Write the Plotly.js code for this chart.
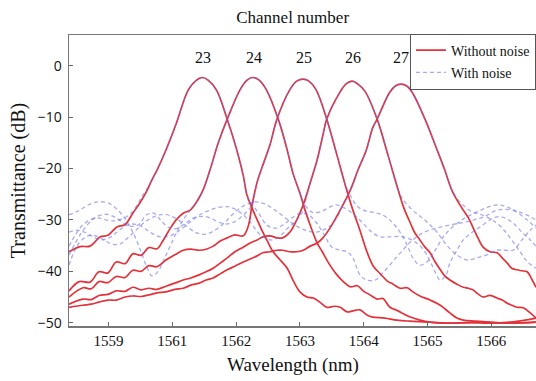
<!DOCTYPE html>
<html>
<head>
<meta charset="utf-8">
<script src="https://cdn.plot.ly/plotly-3.0.1.min.js"></script>
<style>html,body{margin:0;padding:0;background:#fff;}#chart{width:536px;height:381px;}</style>
</head>
<body>
<div id="chart"></div>
<script>
// ---- data (wavelength in nm, transmittance in dB) ----
const channels = ['23', '24', '25', '26', '27'];
const peakWavelengths = [1561.48, 1562.28, 1563.06, 1563.83, 1564.59];
const labelLevel = 1.5;

const tickPositions = [1560, 1561, 1562, 1563, 1564, 1565, 1566];
const tickLabels = ['1559', '1561', '1562', '1563', '1564', '1565', '1566'];
const yTicks = [0, -10, -20, -30, -40, -50];

// Without noise
const red23X = [1559.38,1559.55,1559.71,1559.87,1559.99,1560.13,1560.26,1560.38,1560.49,1560.59,1560.68,1560.76,1560.90,1561.06,1561.25,1561.37,1561.47,1561.56,1561.69,1561.86,1562.01,1562.11,1562.17,1562.25,1562.33,1562.41,1562.48,1562.58,1562.69,1562.80,1562.89,1563.00,1563.11,1563.21,1563.31,1563.42,1563.54,1563.63,1563.74,1563.83,1563.94,1564.05,1564.14,1564.33,1564.52,1564.73,1565.04,1565.35,1565.67,1565.98,1566.29,1566.53,1566.70];
const red23Y = [-36.2,-35.2,-35.1,-33.3,-33.0,-31.4,-30.9,-28.7,-26.7,-24.6,-22.2,-20.3,-16.4,-11.3,-4.7,-2.9,-2.3,-2.8,-4.7,-10.4,-16.4,-21.3,-25.2,-27.7,-30.0,-32.2,-33.9,-36.2,-37.8,-39.4,-41.7,-44.0,-45.0,-45.2,-46.0,-47.0,-46.8,-47.0,-47.9,-47.7,-47.5,-48.5,-48.9,-49.1,-49.5,-49.7,-49.9,-50.1,-50.0,-50.1,-49.9,-49.5,-49.1];

const red24X = [1559.38,1559.54,1559.71,1559.85,1559.99,1560.12,1560.26,1560.38,1560.51,1560.63,1560.76,1560.85,1560.96,1561.06,1561.17,1561.28,1561.37,1561.48,1561.59,1561.72,1561.86,1562.06,1562.17,1562.26,1562.36,1562.47,1562.66,1562.80,1562.89,1563.00,1563.08,1563.16,1563.27,1563.35,1563.47,1563.58,1563.68,1563.79,1563.90,1563.99,1564.10,1564.21,1564.30,1564.41,1564.52,1564.63,1564.73,1564.88,1565.04,1565.35,1565.82,1566.29,1566.70];
const red24Y = [-43.8,-42.0,-42.1,-40.1,-40.3,-38.2,-38.5,-36.6,-36.9,-35.4,-35.6,-34.1,-31.8,-30.0,-28.7,-28.1,-26.7,-24.2,-20.3,-15.0,-10.4,-4.7,-2.8,-2.3,-2.8,-4.6,-10.4,-16.4,-20.9,-24.8,-28.1,-31.0,-34.5,-36.2,-38.8,-40.7,-42.0,-43.0,-42.8,-43.8,-44.6,-45.4,-45.3,-47.0,-47.6,-48.3,-48.9,-49.5,-49.9,-50.1,-49.9,-50.1,-49.9];

const red25X = [1559.38,1559.60,1559.73,1559.85,1559.99,1560.12,1560.26,1560.38,1560.51,1560.63,1560.76,1560.90,1561.04,1561.17,1561.29,1561.42,1561.53,1561.64,1561.75,1561.86,1561.98,1562.11,1562.19,1562.25,1562.33,1562.42,1562.53,1562.64,1562.84,1562.95,1563.05,1563.14,1563.25,1563.42,1563.58,1563.71,1563.83,1563.94,1564.05,1564.15,1564.26,1564.37,1564.46,1564.57,1564.68,1564.77,1564.88,1565.04,1565.20,1565.35,1565.46,1565.56,1565.75,1565.98,1566.29,1566.70];
const red25Y = [-45.0,-43.2,-43.4,-42.0,-42.2,-41.0,-41.2,-39.8,-40.0,-38.9,-39.1,-37.8,-36.8,-35.9,-35.7,-35.9,-35.7,-35.1,-34.1,-33.5,-32.9,-33.1,-31.2,-27.1,-22.6,-19.3,-15.4,-10.4,-4.7,-3.0,-2.6,-3.0,-4.6,-10.4,-17.4,-23.2,-28.1,-32.0,-36.2,-39.0,-40.5,-41.9,-42.5,-43.3,-43.2,-44.0,-44.8,-45.6,-46.6,-48.1,-49.1,-49.5,-49.7,-49.9,-50.1,-49.9];

const red26X = [1559.38,1559.60,1559.73,1559.85,1559.99,1560.12,1560.26,1560.38,1560.51,1560.63,1560.76,1560.90,1561.04,1561.17,1561.29,1561.42,1561.53,1561.64,1561.75,1561.86,1561.98,1562.11,1562.22,1562.33,1562.42,1562.53,1562.64,1562.73,1562.84,1562.95,1563.05,1563.16,1563.27,1563.36,1563.42,1563.63,1563.72,1563.82,1563.91,1564.02,1564.21,1564.38,1564.54,1564.63,1564.73,1564.80,1564.88,1564.96,1565.04,1565.12,1565.20,1565.27,1565.35,1565.46,1565.56,1565.64,1565.71,1565.79,1565.87,1565.98,1566.09,1566.17,1566.25,1566.32,1566.40,1566.50,1566.61,1566.70];
const red26Y = [-46.4,-45.4,-45.5,-44.7,-44.5,-43.8,-43.9,-43.1,-43.6,-43.3,-43.5,-42.9,-42.3,-41.7,-41.3,-40.7,-40.1,-39.4,-38.4,-37.4,-36.2,-35.3,-34.5,-33.9,-33.3,-33.1,-33.5,-33.5,-32.4,-30.0,-27.1,-22.8,-18.3,-13.5,-10.4,-5.1,-3.6,-3.0,-3.6,-5.0,-10.4,-17.4,-24.2,-27.7,-30.6,-32.5,-33.9,-35.3,-36.4,-38.2,-39.7,-40.9,-41.7,-42.5,-43.1,-43.3,-43.6,-44.4,-45.0,-44.7,-45.2,-45.6,-46.2,-46.6,-47.0,-47.1,-48.1,-49.1];

const red27X = [1559.38,1559.60,1559.73,1559.85,1559.99,1560.12,1560.26,1560.38,1560.51,1560.63,1560.76,1560.90,1561.04,1561.17,1561.29,1561.42,1561.53,1561.64,1561.75,1561.86,1561.98,1562.11,1562.22,1562.33,1562.42,1562.53,1562.64,1562.73,1562.84,1562.95,1563.05,1563.16,1563.27,1563.36,1563.47,1563.63,1563.79,1563.91,1564.04,1564.14,1564.21,1564.40,1564.49,1564.58,1564.68,1564.77,1564.96,1565.15,1565.27,1565.38,1565.46,1565.56,1565.64,1565.71,1565.79,1565.87,1565.98,1566.09,1566.17,1566.25,1566.32,1566.40,1566.48,1566.56,1566.64,1566.70];
const red27Y = [-47.0,-46.6,-46.4,-46.0,-45.6,-45.6,-45.0,-44.8,-44.9,-44.6,-44.2,-44.0,-43.5,-43.3,-42.7,-42.3,-41.7,-41.3,-40.5,-39.7,-39.0,-38.2,-37.6,-37.0,-36.4,-36.2,-35.9,-35.9,-36.2,-36.2,-35.9,-35.1,-34.5,-33.5,-31.6,-28.1,-24.2,-20.3,-16.4,-12.1,-10.4,-5.3,-4.0,-3.6,-4.0,-5.4,-10.4,-16.4,-20.3,-24.2,-26.1,-28.1,-29.6,-31.4,-33.5,-35.3,-36.2,-36.4,-37.4,-38.4,-39.4,-39.7,-39.9,-40.1,-41.7,-43.1];

// With noise
const blue23X = [1559.38,1559.47,1559.58,1559.71,1559.83,1559.96,1560.09,1560.21,1560.34,1560.45,1560.52,1560.59,1560.68,1560.76,1560.90,1561.06,1561.25,1561.37,1561.47,1561.56,1561.69,1561.86,1562.01,1562.11,1562.17,1562.26,1562.37,1562.48,1562.61,1562.73,1562.88,1563.00,1563.13,1563.25,1563.38,1563.50,1563.63,1563.74,1563.83,1563.94,1564.05,1564.18,1564.30,1564.52,1564.73,1564.93,1565.20,1565.43,1565.67,1565.90,1566.09,1566.34,1566.53,1566.70];
const blue23Y = [-35.1,-33.1,-31.2,-30.0,-29.6,-30.0,-30.2,-29.8,-28.9,-27.1,-25.5,-24.2,-22.2,-20.3,-16.4,-11.3,-4.7,-2.9,-2.3,-2.8,-4.7,-10.4,-16.4,-21.3,-25.2,-27.1,-29.0,-31.0,-31.6,-31.0,-29.6,-28.7,-29.0,-30.4,-32.9,-35.3,-35.9,-36.2,-37.4,-40.7,-41.7,-41.7,-40.3,-37.2,-34.3,-32.5,-31.4,-30.8,-30.2,-29.3,-28.1,-28.1,-28.9,-30.0];

const blue24X = [1559.38,1559.52,1559.68,1559.83,1559.99,1560.13,1560.27,1560.40,1560.51,1560.60,1560.68,1560.77,1560.88,1561.01,1561.15,1561.28,1561.39,1561.48,1561.59,1561.72,1561.86,1562.06,1562.17,1562.26,1562.36,1562.47,1562.66,1562.80,1562.89,1563.00,1563.08,1563.19,1563.31,1563.44,1563.55,1563.67,1563.82,1563.97,1564.13,1564.26,1564.41,1564.62,1564.83,1564.96,1565.07,1565.20,1565.29,1565.35,1565.46,1565.56,1565.70,1565.82,1565.98,1566.09,1566.21,1566.34,1566.48,1566.61,1566.70];
const blue24Y = [-29.0,-28.3,-27.1,-26.5,-26.7,-27.9,-30.0,-32.9,-36.2,-39.2,-40.9,-40.1,-37.4,-33.9,-30.4,-28.1,-26.5,-24.2,-20.3,-15.0,-10.4,-4.7,-2.8,-2.3,-2.8,-4.6,-10.4,-16.4,-20.9,-24.8,-27.1,-28.5,-28.5,-27.7,-27.1,-27.5,-28.7,-30.4,-32.4,-33.3,-33.3,-33.3,-34.5,-36.2,-38.8,-41.7,-40.7,-38.4,-35.9,-33.9,-32.4,-31.4,-30.0,-29.4,-29.6,-30.6,-32.4,-33.9,-35.1];

const blue25X = [1559.38,1559.47,1559.58,1559.71,1559.83,1559.96,1560.09,1560.21,1560.34,1560.46,1560.60,1560.71,1560.84,1560.96,1561.09,1561.21,1561.34,1561.47,1561.59,1561.72,1561.84,1561.97,1562.09,1562.19,1562.25,1562.33,1562.42,1562.53,1562.64,1562.84,1562.95,1563.05,1563.14,1563.25,1563.42,1563.58,1563.71,1563.79,1563.88,1563.99,1564.13,1564.29,1564.44,1564.57,1564.68,1564.77,1564.88,1564.99,1565.12,1565.27,1565.43,1565.59,1565.77,1565.95,1566.09,1566.25,1566.40,1566.56,1566.70];
const blue25Y = [-36.8,-34.7,-32.4,-30.4,-29.3,-28.9,-29.4,-30.4,-31.2,-31.0,-29.0,-28.7,-30.4,-31.6,-31.6,-30.6,-29.6,-29.3,-29.6,-30.4,-30.8,-30.4,-29.3,-28.1,-27.1,-22.6,-19.3,-15.4,-10.4,-4.7,-3.0,-2.6,-3.0,-4.6,-10.4,-17.4,-23.2,-25.2,-27.1,-28.1,-28.5,-29.0,-30.4,-32.4,-34.9,-37.4,-38.8,-38.2,-35.9,-32.9,-31.0,-29.6,-28.5,-27.5,-27.1,-27.5,-28.5,-30.0,-31.6];

const blue26X = [1559.38,1559.51,1559.63,1559.76,1559.88,1560.01,1560.13,1560.26,1560.38,1560.51,1560.65,1560.81,1560.96,1561.12,1561.28,1561.43,1561.59,1561.75,1561.90,1562.06,1562.22,1562.34,1562.45,1562.56,1562.69,1562.81,1562.92,1563.02,1563.08,1563.16,1563.27,1563.36,1563.42,1563.63,1563.72,1563.82,1563.91,1564.02,1564.21,1564.38,1564.54,1564.62,1564.73,1564.85,1564.99,1565.15,1565.30,1565.46,1565.62,1565.77,1565.93,1566.09,1566.21,1566.34,1566.48,1566.61,1566.70];
const blue26Y = [-32.4,-32.0,-32.4,-33.3,-33.9,-33.5,-32.4,-31.2,-30.8,-31.2,-32.4,-33.3,-33.1,-32.0,-30.4,-29.0,-28.1,-27.5,-27.5,-28.5,-30.4,-32.4,-33.5,-33.9,-33.1,-31.6,-30.4,-28.9,-26.7,-22.8,-18.3,-13.5,-10.4,-5.1,-3.6,-3.0,-3.6,-5.0,-10.4,-17.4,-24.2,-26.1,-27.7,-29.0,-30.4,-32.4,-34.9,-36.8,-37.8,-37.4,-36.8,-35.9,-35.9,-35.9,-33.9,-32.0,-31.0];

const blue27X = [1559.38,1559.46,1559.55,1559.68,1559.80,1559.93,1560.05,1560.18,1560.30,1560.43,1560.57,1560.73,1560.88,1561.04,1561.20,1561.36,1561.51,1561.67,1561.83,1561.98,1562.14,1562.30,1562.45,1562.61,1562.77,1562.92,1563.08,1563.24,1563.36,1563.47,1563.58,1563.67,1563.74,1563.79,1563.91,1564.04,1564.14,1564.21,1564.40,1564.49,1564.58,1564.68,1564.77,1564.96,1565.15,1565.27,1565.38,1565.48,1565.59,1565.71,1565.85,1566.01,1566.17,1566.32,1566.45,1566.57,1566.70];
const blue27Y = [-38.8,-36.2,-34.3,-33.1,-33.1,-33.9,-34.7,-34.7,-33.5,-32.0,-30.4,-29.3,-28.9,-29.6,-31.0,-32.4,-32.8,-32.0,-30.4,-28.5,-27.1,-26.5,-26.9,-28.1,-29.6,-31.0,-32.0,-32.4,-32.0,-31.2,-29.6,-27.1,-25.4,-24.2,-20.3,-16.4,-12.1,-10.4,-5.3,-4.0,-3.6,-4.0,-5.4,-10.4,-16.4,-20.3,-24.2,-26.1,-27.5,-28.5,-29.0,-30.0,-31.6,-33.9,-36.2,-38.2,-39.4];

const redSeries = [[red23X, red23Y], [red24X, red24Y], [red25X, red25Y], [red26X, red26Y], [red27X, red27Y]];
const blueSeries = [[blue23X, blue23Y], [blue24X, blue24Y], [blue25X, blue25Y], [blue26X, blue26Y], [blue27X, blue27Y]];

// ---- traces ----
const traces = [];
redSeries.forEach(function (s, i) {
  traces.push({
    x: s[0], y: s[1], type: 'scatter', mode: 'lines',
    name: 'Without noise', legendgroup: 'a', showlegend: i === 0,
    line: {color: '#e2323a', width: 1.7, shape: 'spline', smoothing: 1}
  });
});
blueSeries.forEach(function (s, i) {
  traces.push({
    x: s[0], y: s[1], type: 'scatter', mode: 'lines',
    name: 'With noise', legendgroup: 'b', showlegend: i === 0,
    line: {color: 'rgba(110,115,225,0.6)', width: 1.3, dash: '4px,3px', shape: 'spline', smoothing: 1}
  });
});

const serif = 'Liberation Serif, Times New Roman, serif';
const annotations = channels.map(function (c, i) {
  return {x: peakWavelengths[i], y: labelLevel, xref: 'x', yref: 'y', text: c, showarrow: false,
          font: {family: serif, size: 16, color: '#111'}};
});
annotations.push({x: 0.48, y: -0.134, xref: 'paper', yref: 'paper', text: 'Wavelength (nm)', showarrow: false,
  xanchor: 'center', yanchor: 'middle', font: {family: serif, size: 19, color: '#111'}});

const layout = {
  width: 536, height: 381,
  margin: {l: 69, r: 0, t: 35, b: 55},
  paper_bgcolor: '#fff', plot_bgcolor: '#fff',
  title: {text: 'Channel number', font: {family: serif, size: 17, color: '#111'},
          x: 0.546, xanchor: 'center', xref: 'container', y: 0.955, yanchor: 'middle', yref: 'container'},
  xaxis: {range: [1559.38, 1566.70], tickvals: tickPositions, ticktext: tickLabels,
          ticks: 'inside', ticklen: 4, tickcolor: '#666', showline: true, linecolor: '#777', linewidth: 1.5,
          mirror: true, showgrid: false, zeroline: false, automargin: false,
          tickfont: {family: serif, size: 15, color: '#111'}},
  yaxis: {range: [-50.64, 5.97], tickvals: yTicks, automargin: false,
          ticks: 'inside', ticklen: 4, tickcolor: '#666', showline: true, linecolor: '#777', linewidth: 1.5,
          showgrid: false, zeroline: false, ticklabelstandoff: 3,
          tickfont: {family: 'Open Sans, sans-serif', size: 14, color: '#111'},
          title: {text: 'Transmittance (dB)', font: {family: serif, size: 20, color: '#111'}, standoff: 6}},
  legend: {x: 1, y: 1.005, xanchor: 'right', yanchor: 'top', bgcolor: '#fff', bordercolor: '#555', borderwidth: 1,
           font: {family: serif, size: 14, color: '#111'}, tracegroupgap: 1, traceorder: 'grouped', itemwidth: 30},
  annotations: annotations,
  showlegend: true
};

Plotly.newPlot('chart', traces, layout, {staticPlot: true, displayModeBar: false});
</script>
</body>
</html>
